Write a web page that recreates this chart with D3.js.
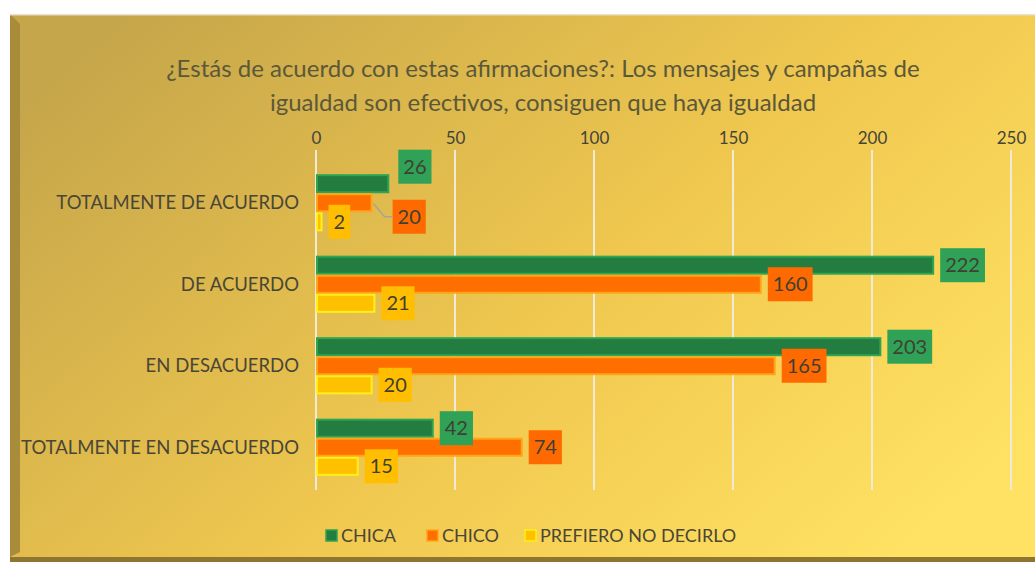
<!DOCTYPE html>
<html>
<head>
<meta charset="utf-8">
<script src="https://cdn.jsdelivr.net/npm/d3@7"></script>
<style>
  body { margin: 0; background: #fff; }
  text { font-family: Lato, "Open Sans", sans-serif; }
</style>
</head>
<body>
<div id="chart"></div>
<script>
var categories = ["TOTALMENTE DE ACUERDO", "DE ACUERDO", "EN DESACUERDO", "TOTALMENTE EN DESACUERDO"];
var series = ["CHICA", "CHICO", "PREFIERO NO DECIRLO"];
var chica = [26, 222, 203, 42];
var chico = [20, 160, 165, 74];
var prefiero = [2, 21, 20, 15];
var ticks = [0, 50, 100, 150, 200, 250];
var titleLines = ["¿Estás de acuerdo con estas afirmaciones?: Los mensajes y campañas de",
                  "igualdad son efectivos, consiguen que haya igualdad"];

var values = [chica, chico, prefiero];
var barFill = ["#237c40", "#ff6f00", "#ffc000"];
var barStroke = ["#2ea552", "#ffa51a", "#ffef1a"];
var labelFill = ["#2fa257", "#ff6a00", "#ffbf00"];

var W = 1035, H = 562;
var svg = d3.select("#chart").append("svg")
  .attr("width", W).attr("height", H);

// background panel
var defs = svg.append("defs");
var grad = defs.append("linearGradient").attr("id", "bg")
  .attr("x1", "0%").attr("y1", "20%").attr("x2", "100%").attr("y2", "80%");
grad.append("stop").attr("offset", "0%").attr("stop-color", "#c6a64a");
grad.append("stop").attr("offset", "55%").attr("stop-color", "#f0c84f");
grad.append("stop").attr("offset", "100%").attr("stop-color", "#ffe263");

svg.append("rect").attr("x", 10).attr("y", 14).attr("width", W - 10).attr("height", H - 14)
  .attr("fill", "#8e7532");
svg.append("rect").attr("x", 10).attr("y", 14).attr("width", W - 10).attr("height", 543)
  .attr("fill", "url(#bg)");
// bevel edges
svg.append("path").attr("d", "M10,14 L20,24 L20,552 L10,557 Z").attr("fill", "#a88c3c");
svg.append("rect").attr("x", 10).attr("y", 14).attr("width", W - 10).attr("height", 1.5)
  .attr("fill", "#e8e0c8");

var x = d3.scaleLinear().domain([0, 250]).range([316, 1011]);
var y = d3.scaleBand().domain(categories).range([162, 488]);
var inner = d3.scaleBand().domain(series).range([0, y.bandwidth()]).paddingOuter(0.64);

// title
svg.append("g").selectAll("text").data(titleLines).enter().append("text")
  .attr("x", 543).attr("y", function (d, i) { return 77 + i * 34; })
  .attr("text-anchor", "middle")
  .style("font-size", "24px").style("fill", "#5b583a")
  .text(function (d) { return d; });

// grid lines
svg.append("g").selectAll("line").data(ticks).enter().append("line")
  .attr("x1", function (d) { return x(d); }).attr("x2", function (d) { return x(d); })
  .attr("y1", 150).attr("y2", 490)
  .attr("stroke", "#f1ead6").attr("stroke-width", 2);

// top axis
var axis = svg.append("g").attr("transform", "translate(0,150)")
  .call(d3.axisTop(x).tickValues(ticks).tickSize(0).tickPadding(6));
axis.select(".domain").remove();
axis.selectAll("text").style("font-size", "17px").style("fill", "#45443a")
  .style("font-family", "Lato, sans-serif");

// category labels
svg.append("g").selectAll("text").data(categories).enter().append("text")
  .attr("x", 299).attr("y", function (d) { return y(d) + y.bandwidth() / 2; })
  .attr("dy", "0.35em").attr("text-anchor", "end")
  .style("font-size", "18.5px").style("fill", "#4a4636")
  .text(function (d) { return d; });

// bars
var rows = [];
series.forEach(function (s, si) {
  categories.forEach(function (c, ci) {
    rows.push({ s: s, si: si, c: c, ci: ci, v: values[si][ci] });
  });
});

svg.append("g").selectAll("rect").data(rows).enter().append("rect")
  .attr("x", x(0) + 1)
  .attr("y", function (d) { return y(d.c) + inner(d.s) + 1; })
  .attr("width", function (d) { return x(d.v) - x(0) - 1; })
  .attr("height", inner.bandwidth() - 2)
  .attr("fill", function (d) { return barFill[d.si]; })
  .attr("stroke", function (d) { return barStroke[d.si]; })
  .attr("stroke-width", 2);

// data labels, the crowded first group was moved by hand
var moved = { "0-0": [3, -17], "1-0": [14, 14] };
var lab = svg.append("g").selectAll("g").data(rows).enter().append("g")
  .attr("transform", function (d) {
    var off = moved[d.si + "-" + d.ci] || [0, 0];
    var cx = x(d.v) + 7 + off[0];
    var cy = y(d.c) + inner(d.s) + inner.bandwidth() / 2 + off[1];
    d.lx = cx; d.ly = cy;
    return "translate(" + cx + "," + cy + ")";
  });
lab.append("text")
  .attr("x", 5).attr("dy", "0.36em")
  .style("font-size", "20px").style("fill", "#3f3f33")
  .text(function (d) { return d.v; });
lab.each(function (d) {
  var g = d3.select(this);
  var w = g.select("text").node().getComputedTextLength();
  g.insert("rect", "text").attr("x", 0).attr("y", -17)
    .attr("width", w + 10).attr("height", 34)
    .attr("fill", labelFill[d.si]);
});

// leader line for the moved CHICO label
var d20 = rows.filter(function (d) { return d.si === 1 && d.ci === 0; })[0];
var by = y(d20.c) + inner(d20.s) + inner.bandwidth() / 2;
svg.append("path")
  .attr("d", "M" + (x(d20.v) + 2) + "," + (by + 1) + " L" + (d20.lx - 8) + "," + d20.ly + " L" + d20.lx + "," + d20.ly)
  .attr("fill", "none").attr("stroke", "#a9a596").attr("stroke-width", 1.5);

// legend
var legX = [326, 427, 525];
var leg = svg.append("g").selectAll("g").data(series).enter().append("g")
  .attr("transform", function (d, i) { return "translate(" + legX[i] + ",536)"; });
leg.append("rect").attr("x", 0).attr("y", -6).attr("width", 11).attr("height", 11)
  .attr("fill", function (d, i) { return barFill[i]; })
  .attr("stroke", function (d, i) { return barStroke[i]; }).attr("stroke-width", 1.5);
leg.append("text").attr("x", 15).attr("dy", "0.35em")
  .style("font-size", "18px").style("fill", "#4a4636")
  .text(function (d) { return d; });
</script>
</body>
</html>
